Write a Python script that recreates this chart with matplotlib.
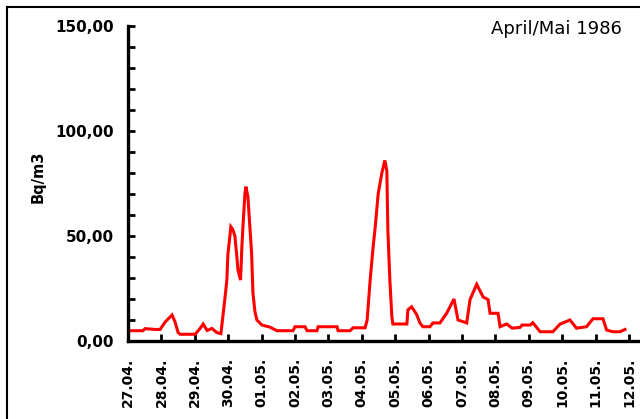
import matplotlib
matplotlib.use("Agg")
import matplotlib.pyplot as plt
from matplotlib.lines import Line2D

# Data: days since 27.04.1986 00:00, activity in Bq/m3
days = [0.00, 0.45, 0.51, 0.81, 0.96, 1.11, 1.32, 1.41, 1.50, 1.56, 2.01, 2.16,
        2.25, 2.37, 2.51, 2.66, 2.78, 2.81, 2.90, 2.96, 2.99, 3.08, 3.14, 3.20,
        3.26, 3.29, 3.37, 3.41, 3.44, 3.50, 3.53, 3.59, 3.65, 3.70, 3.74, 3.80,
        3.86, 4.01, 4.25, 4.46, 4.94, 5.00, 5.30, 5.36, 5.66, 5.69, 6.26, 6.29,
        6.65, 6.74, 7.10, 7.16, 7.25, 7.34, 7.40, 7.49, 7.60, 7.69, 7.75, 7.78,
        7.84, 7.90, 7.93, 8.35, 8.38, 8.49, 8.64, 8.74, 8.83, 9.04, 9.13, 9.34,
        9.54, 9.76, 9.88, 10.14, 10.24, 10.44, 10.63, 10.78, 10.84, 11.08, 11.14,
        11.34, 11.50, 11.74, 11.80, 12.04, 12.12, 12.34, 12.72, 12.93, 13.23,
        13.43, 13.73, 13.92, 14.22, 14.33, 14.52, 14.73, 14.88]
values = [4.9, 4.9, 5.9, 5.5, 5.5, 9.0, 12.4, 9.0, 4.0, 3.2, 3.2, 6.0,
          8.1, 5.0, 6.0, 4.0, 3.5, 7.5, 20.0, 29.0, 41.0, 54.4, 53.0, 50.0,
          40.0, 34.0, 29.0, 45.0, 54.0, 70.0, 73.5, 68.7, 54.0, 42.0, 23.0, 14.0,
          10.0, 7.6, 6.6, 4.9, 4.9, 6.8, 6.8, 4.9, 4.9, 6.8, 6.8, 4.9,
          4.9, 6.3, 6.3, 10.0, 29.0, 45.0, 54.0, 70.0, 80.0, 86.0, 81.0, 53.0,
          29.0, 11.6, 8.1, 8.1, 14.8, 16.3, 12.7, 8.6, 6.8, 6.8, 8.6, 8.6,
          13.2, 20.0, 10.0, 8.6, 19.7, 27.0, 21.0, 19.7, 13.2, 13.2, 6.8,
          8.1, 6.1, 6.5, 7.6, 7.6, 8.7, 4.4, 4.4, 8.0, 10.0,
          6.1, 6.8, 10.6, 10.6, 5.2, 4.4, 4.4, 5.5]
tick_labels = ["27.04.", "28.04.", "29.04.", "30.04.", "01.05.", "02.05.",
               "03.05.", "04.05.", "05.05.", "06.05.", "07.05.", "08.05.",
               "09.05.", "10.05.", "11.05.", "12.05."]
y_major = [0, 50, 100, 150]
y_major_labels = ["0,00", "50,00", "100,00", "150,00"]
title = "April/Mai 1986"
ylabel = "Bq/m3"

fig = plt.figure(figsize=(6.4, 4.19), dpi=100)
W, H = 640, 419
ax = fig.add_axes([128 / W, 1 - 341 / H, (W - 128) / W, (341 - 26) / H])

ax.plot(days, values, color="#ff0000", linewidth=2.2, solid_joinstyle="miter")

ax.set_xlim(0, (W - 128) / 33.4)
ax.set_ylim(0, 150)

for s in ["top", "right"]:
    ax.spines[s].set_visible(False)
for s in ["left", "bottom"]:
    ax.spines[s].set_linewidth(2.4)
    ax.spines[s].set_color("black")

ax.set_xticks(range(len(tick_labels)))
ax.set_xticklabels(tick_labels, rotation=90, fontsize=10, fontweight="bold",
                   family="DejaVu Sans")
ax.set_yticks(y_major)
ax.set_yticklabels(y_major_labels, fontsize=11, fontweight="bold", family="DejaVu Sans")
ax.set_yticks(range(0, 151, 10), minor=True)
ax.tick_params(axis="y", which="both", direction="in", length=5, width=2, pad=10)
ax.tick_params(axis="x", which="major", direction="in", length=5, width=2, pad=12)

ax.set_ylabel(ylabel, fontsize=10.5, fontweight="bold")
ax.yaxis.set_label_coords(-(128 - 46) / (W - 128), 0.52)

fig.text(622 / W, 1 - 29 / H, title, ha="right", va="center", fontsize=13)

# outer frame (left and top edges)
fig.add_artist(Line2D([7 / W, 7 / W], [0, 1 - 7 / H], transform=fig.transFigure,
                      color="black", linewidth=1.5))
fig.add_artist(Line2D([7 / W, 1], [1 - 7 / H, 1 - 7 / H], transform=fig.transFigure,
                      color="black", linewidth=1.5))

fig.savefig("out.png", dpi=100)
